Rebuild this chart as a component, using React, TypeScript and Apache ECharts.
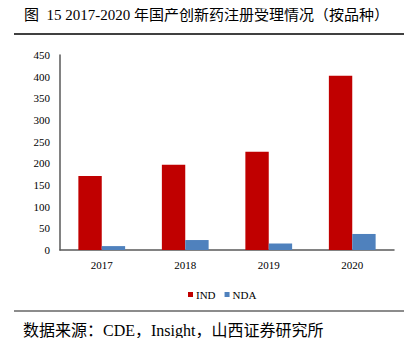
import React, { useEffect, useRef } from "react";
import * as echarts from "echarts";

const categories = ["2017", "2018", "2019", "2020"];
const indValues = [171, 197, 227, 402];
const ndaValues = [9, 23, 15, 37];
const yTicks = { min: 0, max: 450, interval: 50 };

const FONT = "'Liberation Serif', 'Times New Roman', 'Noto Sans CJK SC', serif";

export default function App() {
  const ref = useRef<HTMLDivElement>(null);
  useEffect(() => {
    if (!ref.current) return;
    const chart = echarts.init(ref.current, undefined, { renderer: "svg" });
    chart.setOption({
      animation: false,
      backgroundColor: "#fff",
      textStyle: { fontFamily: FONT },
      grid: { left: 60, right: 18, top: 55, bottom: 96, containLabel: false },
      graphic: [
        {
          type: "text",
          left: 24,
          top: 7,
          style: {
            text: "图  15 2017-2020 年国产创新药注册受理情况（按品种）",
            font: "15px " + FONT,
            fill: "#000",
          },
        },
        {
          type: "line",
          shape: { x1: 14, y1: 34, x2: 412, y2: 34 },
          style: { stroke: "#000", lineWidth: 1.5 },
        },
        {
          type: "line",
          shape: { x1: 14, y1: 311, x2: 412, y2: 311 },
          style: { stroke: "#8c8c8c", lineWidth: 2 },
        },
        {
          type: "text",
          left: 23,
          top: 322,
          style: {
            text: "数据来源：CDE，Insight，山西证券研究所",
            font: "16px " + FONT,
            fill: "#000",
          },
        },
      ],
      legend: {
        data: ["IND", "NDA"],
        left: 183,
        top: 284,
        itemWidth: 5,
        itemHeight: 5,
        itemGap: 9,
        icon: "rect",
        textStyle: { fontFamily: "Liberation Serif", fontSize: 11, color: "#000", padding: [0, 0, 0, -2] },
      },
      xAxis: {
        type: "category",
        data: categories,
        axisLine: { lineStyle: { color: "#595959", width: 1.5 } },
        axisTick: { show: false },
        axisLabel: { color: "#000", fontSize: 11, fontFamily: FONT, margin: 9 },
      },
      yAxis: {
        type: "value",
        min: yTicks.min,
        max: yTicks.max,
        interval: yTicks.interval,
        axisLine: { show: true, lineStyle: { color: "#595959", width: 1.5 } },
        axisTick: { show: false },
        splitLine: { show: false },
        axisLabel: { color: "#000", fontSize: 11, fontFamily: FONT, margin: 10 },
      },
      series: [
        {
          name: "IND",
          type: "bar",
          data: indValues,
          barGap: "0%",
          barCategoryGap: "44%",
          itemStyle: { color: "#C00000" },
        },
        {
          name: "NDA",
          type: "bar",
          data: ndaValues,
          itemStyle: { color: "#4F81BD" },
        },
      ],
    });
    return () => chart.dispose();
  }, []);
  return <div ref={ref} style={{ width: 412, height: 346, margin: -8 }} />;
}
